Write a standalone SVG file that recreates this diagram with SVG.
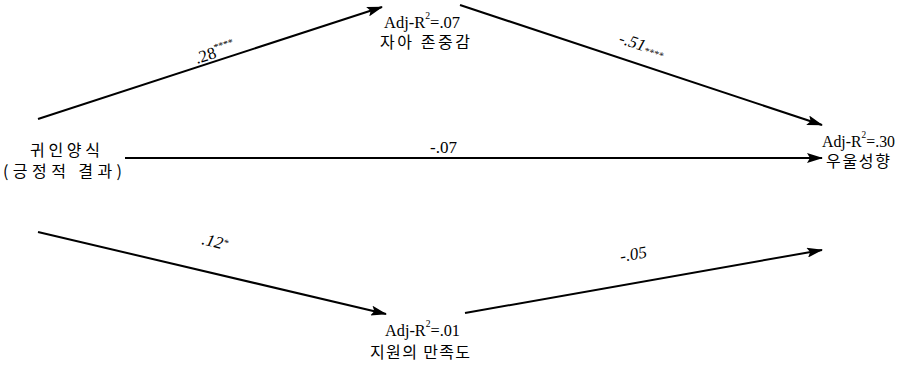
<svg xmlns="http://www.w3.org/2000/svg" width="899" height="370" viewBox="0 0 899 370">
<style>
.ln{stroke:#000;stroke-width:2;fill:none}
.en{font-family:"Liberation Serif","Times New Roman",serif;font-size:17px;fill:#000}
.ko{font-family:"Noto Sans CJK KR","Noto Sans",sans-serif;font-size:16px;fill:#000}
.lb{font-family:"Liberation Serif","Times New Roman",serif;font-size:17px;fill:#000}
.it{font-style:italic}
.sup{font-size:10px}
</style>
<defs>
<marker id="ah" markerWidth="16" markerHeight="10" refX="15" refY="5" orient="auto" markerUnits="userSpaceOnUse">
<path d="M0,0 L16,5 L0,10 L3,5 Z" fill="#000"/>
</marker>
</defs>
<rect width="899" height="370" fill="#fff"/>
<g id="connectors">
<line class="ln" x1="38" y1="119" x2="382" y2="7" marker-end="url(#ah)"/>
<line class="ln" x1="460" y1="5" x2="822" y2="125" marker-end="url(#ah)"/>
<line class="ln" x1="125" y1="158" x2="822" y2="158" marker-end="url(#ah)"/>
<line class="ln" x1="38" y1="232" x2="386" y2="314" marker-end="url(#ah)"/>
<line class="ln" x1="465" y1="313" x2="822" y2="250" marker-end="url(#ah)"/>
<text class="lb" x="197" y="64" transform="rotate(-18 197 64)">.28<tspan class="sup" dy="-7">****</tspan></text>
<text class="lb it" x="618" y="43" transform="rotate(18 618 43)">-.51<tspan class="sup" dy="2">****</tspan></text>
<text class="lb" x="430" y="153">-.07</text>
<text class="lb it" x="201" y="244" transform="rotate(14 201 244)">.12<tspan class="sup" dy="-4">*</tspan></text>
<text class="lb it" x="621" y="262" transform="rotate(-10 621 262)">-.05</text>
</g>
<g id="node-attribution">
<text class="ko" x="30" y="156" textLength="70">귀인양식</text>
<text class="ko" x="3" y="177" textLength="119">(긍정적 결과)</text>
</g>
<g id="node-selfesteem">
<text class="en" x="384" y="28" textLength="76" lengthAdjust="spacingAndGlyphs">Adj-R<tspan class="sup" dy="-9">2</tspan><tspan dy="9">=.07</tspan></text>
<text class="ko" x="380" y="48" textLength="90">자아 존중감</text>
</g>
<g id="node-depression">
<text class="en" x="822" y="147" textLength="73" lengthAdjust="spacingAndGlyphs">Adj-R<tspan class="sup" dy="-9">2</tspan><tspan dy="9">=.30</tspan></text>
<text class="ko" x="826" y="167" textLength="64">우울성향</text>
</g>
<g id="node-support">
<text class="en" x="385" y="336" textLength="75" lengthAdjust="spacingAndGlyphs">Adj-R<tspan class="sup" dy="-9">2</tspan><tspan dy="9">=.01</tspan></text>
<text class="ko" x="370" y="358" textLength="100">지원의 만족도</text>
</g>
</svg>
